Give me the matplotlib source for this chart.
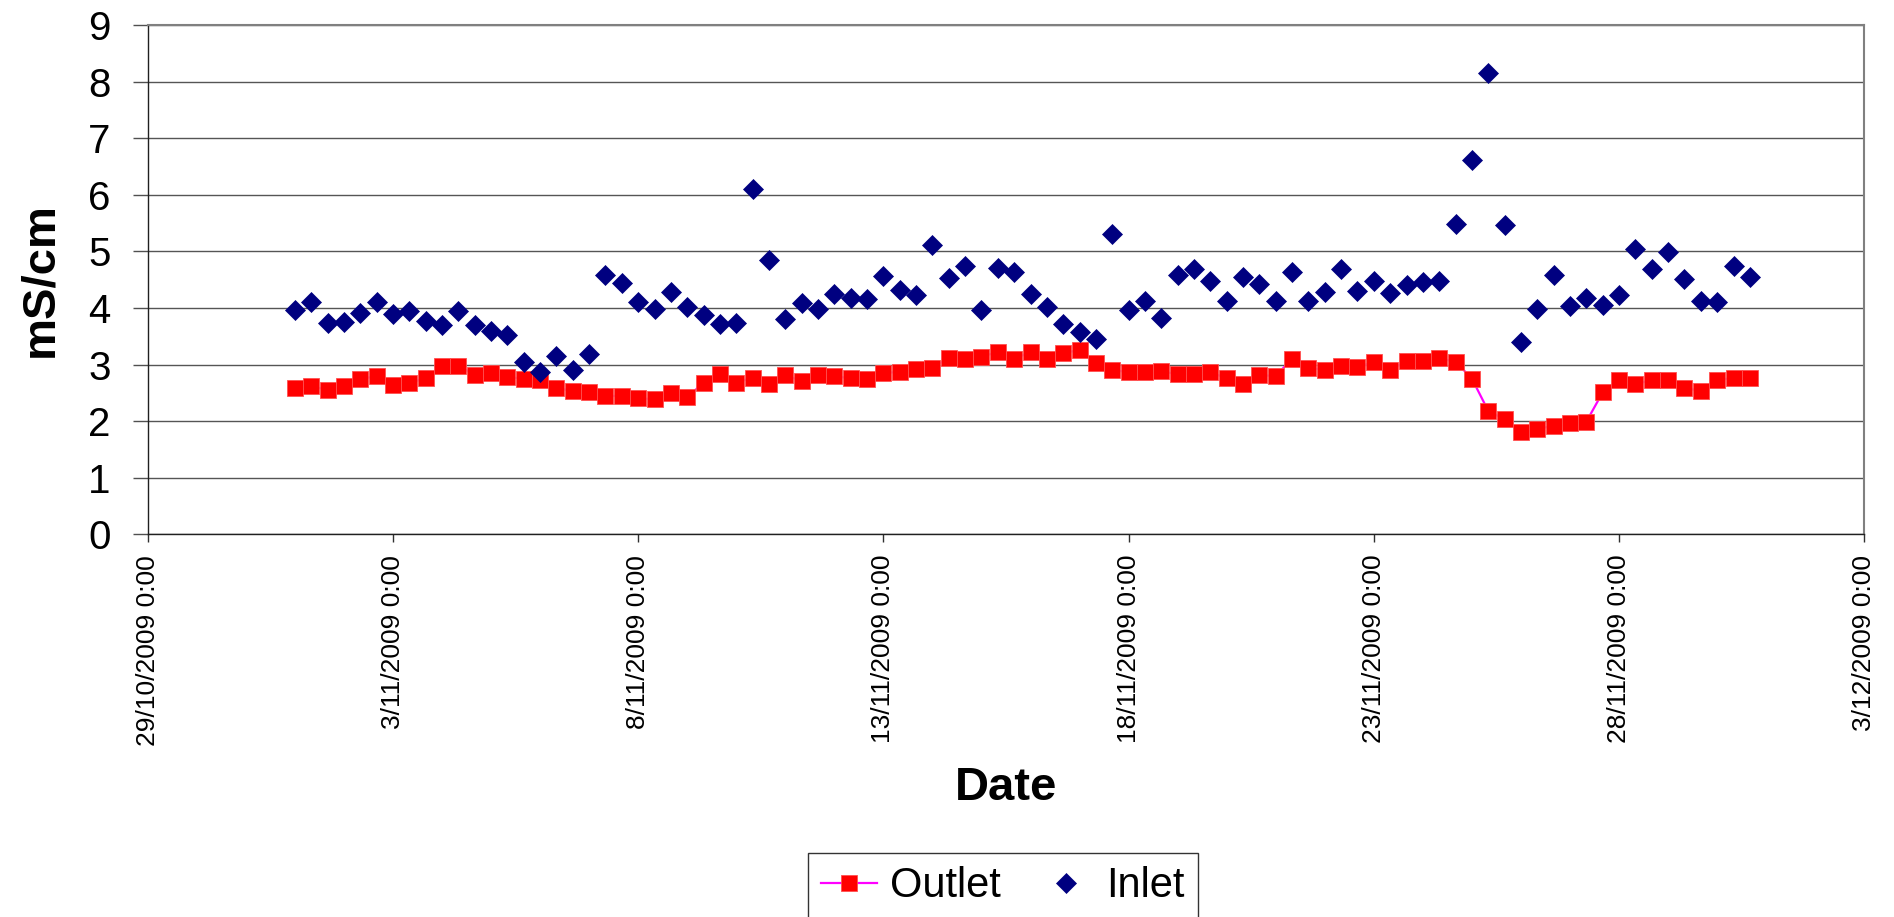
import matplotlib
matplotlib.use("Agg")
import matplotlib.pyplot as plt
import pandas as pd

# ---------------- data ----------------
start_time = "2009-11-01 00:00"
step = "8h"

outlet = [2.59, 2.62, 2.55, 2.62, 2.75, 2.79, 2.64, 2.67, 2.76, 2.98,
          2.98, 2.82, 2.85, 2.78, 2.75, 2.73, 2.58, 2.54, 2.51, 2.44,
          2.45, 2.40, 2.39, 2.49, 2.42, 2.68, 2.83, 2.68, 2.77, 2.65,
          2.81, 2.71, 2.81, 2.79, 2.76, 2.74, 2.85, 2.87, 2.92, 2.94,
          3.12, 3.10, 3.14, 3.22, 3.10, 3.22, 3.09, 3.21, 3.25, 3.02,
          2.91, 2.86, 2.86, 2.88, 2.83, 2.83, 2.86, 2.76, 2.66, 2.81,
          2.80, 3.10, 2.94, 2.91, 2.98, 2.96, 3.04, 2.91, 3.06, 3.06,
          3.11, 3.05, 2.75, 2.18, 2.03, 1.81, 1.86, 1.92, 1.96, 1.99,
          2.51, 2.73, 2.66, 2.72, 2.72, 2.58, 2.54, 2.73, 2.76, 2.77]

inlet = [3.96, 4.11, 3.73, 3.75, 3.91, 4.10, 3.89, 3.94, 3.77, 3.70,
         3.95, 3.69, 3.59, 3.52, 3.05, 2.86, 3.15, 2.90, 3.18, 4.59,
         4.44, 4.10, 3.99, 4.28, 4.01, 3.87, 3.72, 3.73, 6.10, 4.84,
         3.81, 4.08, 3.99, 4.24, 4.18, 4.15, 4.56, 4.32, 4.23, 5.12,
         4.53, 4.75, 3.96, 4.71, 4.63, 4.24, 4.02, 3.72, 3.58, 3.46,
         5.31, 3.96, 4.13, 3.82, 4.58, 4.68, 4.48, 4.12, 4.54, 4.43,
         4.13, 4.63, 4.13, 4.29, 4.69, 4.30, 4.47, 4.27, 4.41, 4.46,
         4.48, 5.48, 6.61, 8.15, 5.47, 3.39, 3.98, 4.58, 4.04, 4.18,
         4.06, 4.22, 5.05, 4.68, 4.98, 4.52, 4.13, 4.10, 4.74, 4.55]

tick_dates = ["2009-10-29", "2009-11-03", "2009-11-08", "2009-11-13",
              "2009-11-18", "2009-11-23", "2009-11-28", "2009-12-03"]
tick_labels = ["29/10/2009 0:00", "3/11/2009 0:00", "8/11/2009 0:00",
               "13/11/2009 0:00", "18/11/2009 0:00", "23/11/2009 0:00",
               "28/11/2009 0:00", "3/12/2009 0:00"]
y_ticks = [0, 1, 2, 3, 4, 5, 6, 7, 8, 9]

times = pd.date_range(start_time, periods=len(outlet), freq=step)

# ---------------- figure ----------------
plt.rcParams['font.family'] = ['Liberation Sans', 'DejaVu Sans']

W, H = 1894, 917
fig = plt.figure(figsize=(W / 100, H / 100), dpi=100)
left, right, top, bottom = 147.7, 1864.3, 25.0, 534.3
ax = fig.add_axes([left / W, 1 - bottom / H, (right - left) / W, (bottom - top) / H])

ax.plot(times, outlet, color='#FF00FF', lw=1.6, marker='s', ms=11.2,
        mfc='#FF0000', mec='#FF5050', mew=0.6, label='Outlet', zorder=3)
ax.plot(times, inlet, ls='none', marker='D', ms=10.6,
        mfc='#000080', mec='#000080', mew=0.5, label='Inlet', zorder=4)

ax.set_xlim(pd.Timestamp(tick_dates[0]), pd.Timestamp(tick_dates[-1]))
ax.set_ylim(0, 9)
ax.set_yticks(y_ticks)
ax.set_xticks([pd.Timestamp(d) for d in tick_dates])
ax.set_xticklabels(tick_labels, rotation=90, ha='center', va='top', fontsize=19)
ax.tick_params(axis='y', labelsize=29, length=10.8, width=1.0, color='#505050',
               direction='out', pad=16)
ax.tick_params(axis='x', length=5.8, width=1.0, color='#303030',
               direction='out', pad=9)

ax.grid(axis='y', color='#555555', lw=1.0)
ax.set_axisbelow(True)

for s in ['left', 'bottom']:
    ax.spines[s].set_color('#202020')
    ax.spines[s].set_linewidth(1.0)
for s in ['top', 'right']:
    ax.spines[s].set_color('#808080')
    ax.spines[s].set_linewidth(1.5)

ax.set_xlabel('Date', fontsize=34, fontweight='bold')
ax.xaxis.set_label_coords(0.5, (bottom - 788) / (bottom - top))
ax.xaxis.label.set_va('center')
ax.set_ylabel('mS/cm', fontsize=34, fontweight='bold')
ax.yaxis.set_label_coords((40 - left) / (right - left), 0.5)
ax.yaxis.label.set_va('center')

leg = fig.legend(loc='upper center', bbox_to_anchor=(1003 / W, 1 - 852.7 / H),
                 ncol=2, fontsize=30, frameon=True, fancybox=False, shadow=False,
                 handlelength=1.33, handletextpad=0.31, columnspacing=0.9,
                 borderpad=0.33, borderaxespad=0, numpoints=1)
leg.get_frame().set_edgecolor('black')
leg.get_frame().set_linewidth(1.0)

fig.savefig('out.png', dpi=100)
